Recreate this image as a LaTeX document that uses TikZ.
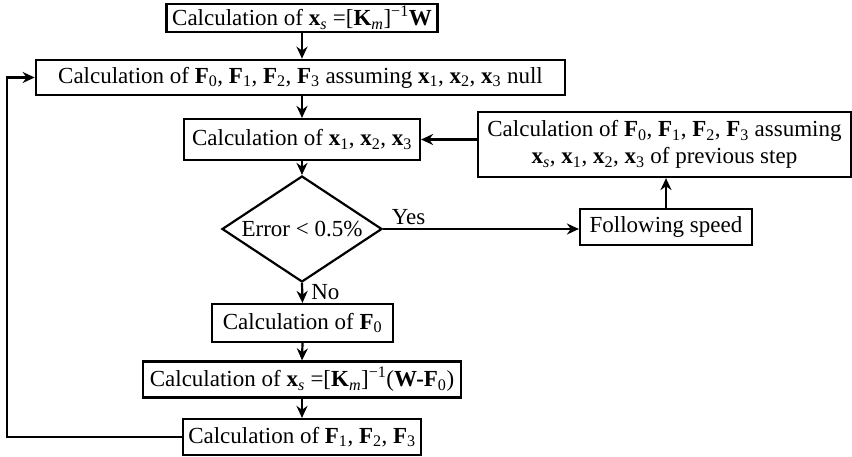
\documentclass[tikz,border=0pt]{standalone}
\usepackage{fontspec}
\setmainfont{Liberation Serif}
\usetikzlibrary{shapes.geometric,arrows.meta}
\newcommand{\bv}[2]{\textbf{#1}\textsubscript{#2}}
\begin{document}
\begin{tikzpicture}[x=1pt,y=-1pt,
  box/.style={draw, line width=2.2pt, inner sep=0pt, align=center,
    font=\fontsize{23}{27}\selectfont},
  lbl/.style={inner sep=1pt, font=\fontsize{23}{27}\selectfont},
  arr/.style={line width=2.2pt, -{Stealth[length=12pt,width=11pt]}},
  ln/.style={line width=2.2pt}]
\useasboundingbox (0,0) rectangle (852,457);
\node[box, minimum width=271pt, minimum height=28pt] (b1) at (302,18)
  {Calculation of \bv{x}{\textit{s}} =[\bv{K}{\textit{m}}]\textsuperscript{−1}\textbf{W}};
\node[box, line width=2.7pt, minimum width=529pt, minimum height=35pt] (b2) at (300.5,77.5)
  {Calculation of \bv{F}{0}, \bv{F}{1}, \bv{F}{2}, \bv{F}{3} assuming \bv{x}{1}, \bv{x}{2}, \bv{x}{3} null};
\node[box, minimum width=236pt, minimum height=41pt] (b3) at (302,139.5)
  {Calculation of \bv{x}{1}, \bv{x}{2}, \bv{x}{3}};
\node[box, minimum width=373pt, minimum height=65pt] (b4) at (664.5,144.5)
  {Calculation of \bv{F}{0}, \bv{F}{1}, \bv{F}{2}, \bv{F}{3} assuming\\
   \bv{x}{\textit{s}}, \bv{x}{1}, \bv{x}{2}, \bv{x}{3} of previous step};
\node[box, diamond, shape aspect=1.5, minimum width=160pt, minimum height=106pt] (dia) at (302,229)
  {Error < 0.5\%};
\node[box, minimum width=172pt, minimum height=36pt] (fs) at (666,227)
  {Following speed};
\node[box, minimum width=181pt, minimum height=38pt] (b5) at (302.5,323)
  {Calculation of \bv{F}{0}};
\node[box, minimum width=318pt, minimum height=36pt] (b6) at (302,379.5)
  {Calculation of \bv{x}{\textit{s}} =[\bv{K}{\textit{m}}]\textsuperscript{−1}(\textbf{W-F}\textsubscript{0})};
\node[box, minimum width=238pt, minimum height=36pt] (b7) at (302,437)
  {Calculation of \bv{F}{1}, \bv{F}{2}, \bv{F}{3}};
\coordinate (lp) at (7,0);
\draw[arr] (b1.south) -- (b1.south |- b2.north);
\draw[arr] (b3.north |- b2.south) -- (b3.north);
\draw[arr] (b3.south) -- (dia.north);
\draw[arr] (dia.east) -- node[lbl, pos=0.13, above=2pt] (yes) {Yes} (dia.east -| fs.west);
\draw[arr] (fs.north) -- (fs.north |- b4.south);
\draw[arr] (b4.west |- b3.east) -- (b3.east);
\draw[arr] (dia.south) -- node[lbl, pos=0.45, right=7pt] (no) {No} (b5.north);
\draw[arr] (b5.south) -- (b6.north);
\draw[arr] (b6.south) -- (b7.north);
\draw[arr] (b7.west) -- (b7.west -| lp) |- (b2.west);
\end{tikzpicture}
\end{document}
